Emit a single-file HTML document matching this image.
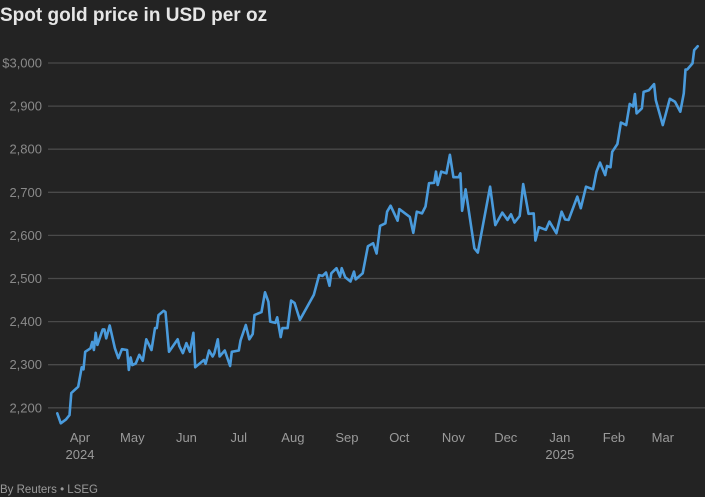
<!DOCTYPE html>
<html><head><meta charset="utf-8"><style>
html,body{margin:0;padding:0;background:#232323;}
svg{display:block;font-family:"Liberation Sans",sans-serif;}
</style></head><body>
<svg id="chart" width="705" height="497" viewBox="0 0 705 497">
<rect width="705" height="497" fill="#232323"/>
<text x="0" y="21" fill="#e6e6e6" font-size="19" font-weight="bold">Spot gold price in USD per oz</text>
<g id="grid"></g><g id="xaxis"></g><g id="series"></g>
<text x="0" y="493" fill="#9a9a9a" font-size="11.5">By Reuters • LSEG</text>
</svg>
<script>
// day offsets from 2024-03-19
const days=[0,2,5,7,8,12,14,15,16,19,20,21,22,23,26,27,28,30,33,35,37,40,41,42,43,45,47,49,51,54,56,57,58,61,62,64,69,70,72,74,76,78,79,84,85,87,89,90,92,93,96,99,100,104,105,108,110,112,113,117,119,121,122,125,126,128,129,132,134,136,139,147,150,152,154,156,157,160,162,163,165,168,170,171,175,178,181,183,185,188,189,191,195,196,202,204,206,209,211,213,216,217,218,220,223,225,227,230,231,232,234,239,241,248,251,255,258,260,262,265,267,270,273,274,276,280,282,286,289,291,293,298,300,303,307,309,311,314,315,317,318,321,323,326,328,330,331,332,335,336,339,342,343,347,351,354,357,359,360,361,364,365,367];
const prices=[2187,2164,2173,2183,2234,2249,2294,2289,2330,2338,2353,2334,2374,2346,2382,2382,2361,2391,2338,2315,2336,2334,2288,2317,2299,2303,2323,2309,2359,2334,2385,2385,2415,2425,2422,2330,2359,2343,2327,2350,2330,2374,2294,2311,2302,2333,2319,2327,2359,2319,2333,2297,2330,2333,2356,2392,2359,2371,2415,2422,2468,2446,2400,2397,2410,2364,2385,2385,2449,2443,2404,2462,2508,2506,2514,2483,2512,2524,2504,2524,2503,2493,2516,2498,2512,2575,2582,2558,2622,2628,2655,2669,2634,2661,2643,2606,2655,2651,2667,2721,2722,2748,2717,2748,2744,2787,2735,2735,2744,2657,2707,2570,2560,2713,2624,2653,2636,2649,2630,2645,2719,2650,2651,2588,2619,2613,2632,2605,2655,2637,2636,2690,2663,2713,2707,2748,2769,2740,2761,2758,2794,2812,2862,2856,2905,2899,2928,2883,2895,2933,2937,2951,2914,2856,2917,2910,2887,2930,2985,2985,2999,3030,3039];
const yTicks=[2200,2300,2400,2500,2600,2700,2800,2900,3000];
const yTickLabels=["2,200","2,300","2,400","2,500","2,600","2,700","2,800","2,900","$3,000"];
const monthDays=[13,43,74,104,135,166,196,227,257,288,319,347];
const monthLabels=["Apr","May","Jun","Jul","Aug","Sep","Oct","Nov","Dec","Jan","Feb","Mar"];
const yearLabels={0:"2024",9:"2025"};

const NS="http://www.w3.org/2000/svg";
const X=d=>57.3+d*1.745;
const Y=v=>63+(3000-v)*0.431;
function mk(tag,attrs,parent){const e=document.createElementNS(NS,tag);for(const k in attrs)e.setAttribute(k,attrs[k]);parent.appendChild(e);return e;}
const grid=document.getElementById('grid'),xa=document.getElementById('xaxis'),se=document.getElementById('series');
yTicks.forEach((v,i)=>{
  const l=mk('line',{x1:48,x2:705,y1:Y(v),y2:Y(v),stroke:'#4a4a4a','stroke-width':1.3},grid);
  
  
  const t=mk('text',{x:42,y:Y(v)+4.5,fill:'#8a8a8a','font-size':13,'text-anchor':'end'},grid);
  t.textContent=yTickLabels[i];
  
  
});
monthDays.forEach((d,i)=>{
  const t=mk('text',{x:X(d),y:442,fill:'#9a9a9a','font-size':13,'text-anchor':'middle'},xa);
  t.textContent=monthLabels[i];
  
  
  if(yearLabels[i]){
    const y=mk('text',{x:X(d),y:459,fill:'#9a9a9a','font-size':13,'text-anchor':'middle'},xa);
    y.textContent=yearLabels[i];
    
    
  }
});
const pts=days.map((d,i)=>X(d).toFixed(1)+','+Y(prices[i]).toFixed(1)).join(' ');
const pl=mk('polyline',{points:pts,fill:'none',stroke:'#4a9bdc','stroke-width':2.6,'stroke-linejoin':'round','stroke-linecap':'round'},se);


</script>
</body></html>
